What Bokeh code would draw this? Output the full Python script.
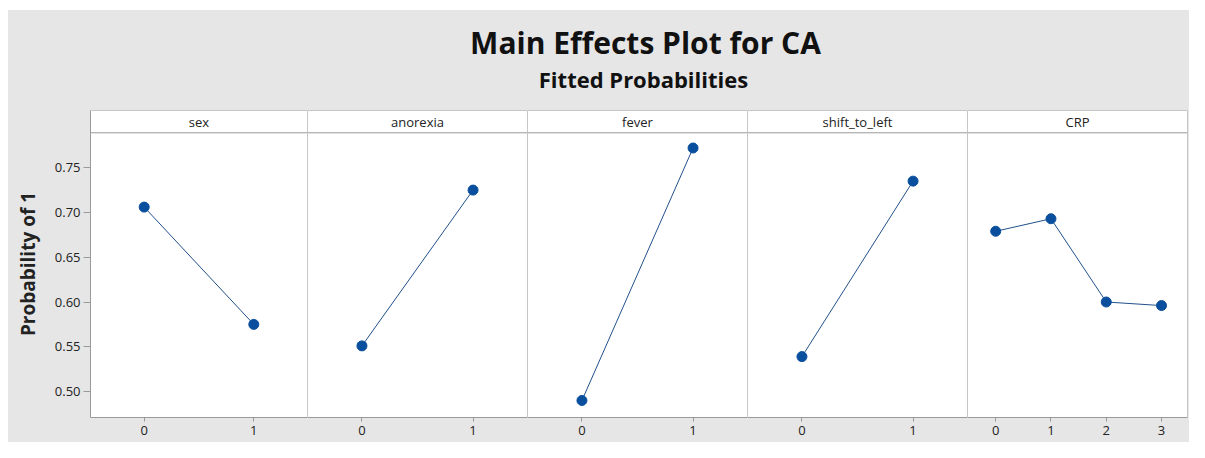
from bokeh.plotting import figure
from bokeh.layouts import column, row
from bokeh.models import Range1d, FixedTicker, Span, Label, NumeralTickFormatter
from bokeh.embed import file_html
from bokeh.resources import INLINE

# ---------------- data ----------------
TITLE = "Main Effects Plot for CA"
SUBTITLE = "Fitted Probabilities"
Y_LABEL = "Probability of 1"
FACTORS = ["sex", "anorexia", "fever", "shift_to_left", "CRP"]
SEX_LEVELS = [0, 1]
SEX_PROB = [0.706, 0.575]
ANOREXIA_LEVELS = [0, 1]
ANOREXIA_PROB = [0.551, 0.725]
FEVER_LEVELS = [0, 1]
FEVER_PROB = [0.490, 0.772]
SHIFT_LEVELS = [0, 1]
SHIFT_PROB = [0.539, 0.735]
CRP_LEVELS = [0, 1, 2, 3]
CRP_PROB = [0.679, 0.693, 0.600, 0.596]
Y_TICKS = [0.50, 0.55, 0.60, 0.65, 0.70, 0.75]

LEVELS = [SEX_LEVELS, ANOREXIA_LEVELS, FEVER_LEVELS, SHIFT_LEVELS, CRP_LEVELS]
PROBS = [SEX_PROB, ANOREXIA_PROB, FEVER_PROB, SHIFT_PROB, CRP_PROB]

# ---------------- style ----------------
BG = "#e6e6e6"
EDGE = "#9a9a9a"
BLUE = "#0a4f9e"
LINE = "#23508c"
FONT = "Open Sans"
TXT = "#222222"

Y_BOTTOM, Y_TOP, HEADER_LINE = 0.471, 0.8139, 0.789
FRAME_W = [217, 220, 220, 220, 220]
FRAME_H = 307
TITLE_H = 100
GRAY_W = 1181

# title strip
tf = figure(width=GRAY_W, height=TITLE_H, toolbar_location=None, output_backend="svg",
            x_range=Range1d(0, GRAY_W), y_range=Range1d(TITLE_H, 0),
            min_border=0, outline_line_color=None,
            background_fill_color=BG, border_fill_color=BG)
tf.axis.visible = False
tf.grid.visible = False
tf.add_layout(Label(x=637, y=32, text=TITLE, text_align="center", text_baseline="alphabetic",
                    text_font=FONT, text_font_size="30px", text_font_style="bold",
                    text_color="#111111"))
tf.add_layout(Label(x=635, y=68, text=SUBTITLE, text_align="center", text_baseline="alphabetic",
                    text_font=FONT, text_font_size="22px", text_font_style="bold",
                    text_color="#111111"))

yr = Range1d(Y_BOTTOM, Y_TOP)
panels = []
n = len(FACTORS)
for i, (name, lv, pr) in enumerate(zip(FACTORS, LEVELS, PROBS)):
    lo = -0.49 if len(lv) == 2 else -0.51
    hi = (len(lv) - 1) + (0.49 if len(lv) == 2 else 0.47)
    p = figure(frame_width=FRAME_W[i], frame_height=FRAME_H,
               toolbar_location=None, output_backend="svg",
               x_range=Range1d(lo, hi), y_range=yr,
               min_border_left=82 if i == 0 else 0,
               min_border_right=2 if i == n - 1 else 0,
               min_border_top=0, min_border_bottom=25,
               background_fill_color="white", border_fill_color=BG,
               outline_line_color=None)
    p.grid.visible = False
    # x axis
    p.xaxis.ticker = FixedTicker(ticks=lv)
    p.xaxis.axis_line_color = EDGE
    p.xaxis.major_tick_line_color = EDGE
    p.xaxis.major_tick_in = 0
    p.xaxis.major_tick_out = 4
    p.xaxis.minor_tick_line_color = None
    p.xaxis.major_label_standoff = 4
    p.xaxis.major_label_text_font = FONT
    p.xaxis.major_label_text_font_size = "13px"
    p.xaxis.major_label_text_color = TXT
    # y axis
    if i == 0:
        p.yaxis.ticker = FixedTicker(ticks=Y_TICKS)
        p.yaxis.formatter = NumeralTickFormatter(format="0.00")
        p.yaxis.axis_line_color = EDGE
        p.yaxis.major_tick_line_color = EDGE
        p.yaxis.major_tick_in = 0
        p.yaxis.major_tick_out = 7
        p.yaxis.minor_tick_line_color = None
        p.yaxis.major_label_standoff = 3
        p.yaxis.major_label_text_font = FONT
        p.yaxis.major_label_text_font_size = "13px"
        p.yaxis.major_label_text_color = TXT
        p.yaxis.axis_label = Y_LABEL
        p.yaxis.axis_label_text_font = FONT
        p.yaxis.axis_label_text_font_size = "19px"
        p.yaxis.axis_label_text_font_style = "bold"
        p.yaxis.axis_label_text_color = TXT
        p.yaxis.axis_label_standoff = 11
    else:
        p.yaxis.visible = False
        p.add_layout(Span(location=lo, dimension="height", line_color=EDGE, line_width=1))
    if i == n - 1:
        p.add_layout(Span(location=hi, dimension="height", line_color=EDGE, line_width=1))
    p.add_layout(Span(location=Y_TOP, dimension="width", line_color=EDGE, line_width=1))
    p.add_layout(Span(location=HEADER_LINE, dimension="width", line_color=EDGE, line_width=1))
    p.add_layout(Label(x=(lo + hi) / 2, y=(HEADER_LINE + Y_TOP) / 2, text=name,
                       text_align="center", text_baseline="middle",
                       text_font=FONT, text_font_size="13px", text_color=TXT))
    p.line(lv, pr, line_color=LINE, line_width=1)
    p.scatter(lv, pr, size=10, fill_color=BLUE, line_color=BLUE)
    panels.append(p)

layout = column(tf, row(*panels, spacing=0), spacing=0, background=BG,
                margin=(10, 0, 0, 8))
open("out.html", "w").write(file_html(layout, INLINE))
